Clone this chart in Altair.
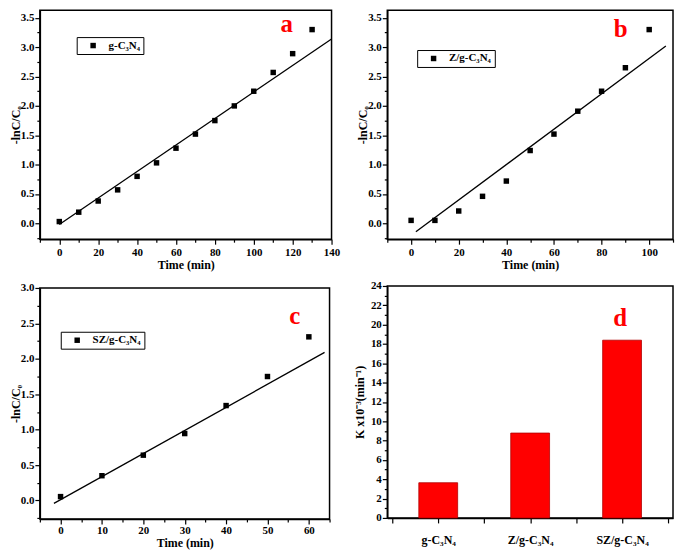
import json
import altair as alt
import pandas as pd

FONT = "Liberation Serif"

# ---- panel a : g-C3N4 ----
time_a = [0, 10, 20, 30, 40, 50, 60, 70, 80, 90, 100, 110, 120, 130]
lnc_a = [0.03, 0.19, 0.38, 0.57, 0.80, 1.03, 1.28, 1.52, 1.75, 2.00, 2.25, 2.57, 2.89, 3.30]
fit_a_x = [0, 140]
fit_a_y = [-0.02, 3.14]

# ---- panel b : Z/g-C3N4 ----
time_b = [0, 10, 20, 30, 40, 50, 60, 70, 80, 90, 100]
lnc_b = [0.05, 0.05, 0.21, 0.46, 0.72, 1.24, 1.52, 1.91, 2.25, 2.65, 3.30]
fit_b_x = [2, 107]
fit_b_y = [-0.145, 3.02]

# ---- panel c : SZ/g-C3N4 ----
time_c = [0, 10, 20, 30, 40, 50, 60]
lnc_c = [0.055, 0.35, 0.64, 0.945, 1.34, 1.75, 2.31]
fit_c_x = [-1.6, 63.8]
fit_c_y = [-0.04, 2.09]

# ---- panel d : rate constants ----
categories = ["g-C\u2083N\u2084", "Z/g-C\u2083N\u2084", "SZ/g-C\u2083N\u2084"]
k_values = [3.64, 8.78, 18.39]

YTITLE = "-lnC/C\u2080"


def is_major(step):
    return f"abs(datum.value/{step} - round(datum.value/{step})) < 0.001"


def tick_size(step):
    return {"condition": {"test": is_major(step), "value": 5}, "value": 3}


def frange(a, b, s):
    out = []
    v = a
    while v <= b + 1e-9:
        out.append(round(v, 4))
        v += s
    return out


def kinetic_panel(t, v, fx, fy, name, letter, lx, ly, xdom, xminor, xmajor,
                  ydom, yticks, ymajor, w, h, legx, legy, xlp=2, xtp=2):
    pts = pd.DataFrame({"t": t, "v": v, "s": [name] * len(t)})
    fit = pd.DataFrame({"t": fx, "v": fy})
    lab = pd.DataFrame({"t": [lx], "v": [ly], "txt": [letter]})
    xvals = frange(xdom[0], xdom[1], xminor)
    yvals = frange(yticks[0], yticks[1], yticks[2])
    x = alt.X("t:Q", scale=alt.Scale(domain=xdom, nice=False, zero=False),
              axis=alt.Axis(values=xvals, tickSize=tick_size(xmajor), format="d",
                            labelExpr=f"{is_major(xmajor)} ? datum.label : ''",
                            title="Time (min)", titlePadding=xtp, labelPadding=xlp))
    y = alt.Y("v:Q", scale=alt.Scale(domain=ydom, nice=False, zero=False),
              axis=alt.Axis(values=yvals, tickSize=tick_size(ymajor), format=".1f",
                            labelExpr=f"{is_major(ymajor)} ? datum.label : ''",
                            title=YTITLE, titlePadding=-2, labelPadding=1))
    line = alt.Chart(fit).mark_line(color="black", strokeWidth=1.3, clip=True).encode(x=x, y=y)
    points = alt.Chart(pts).mark_square(size=30, opacity=1).encode(
        x=x, y=y,
        color=alt.Color("s:N", scale=alt.Scale(range=["black"]),
                        legend=alt.Legend(orient="none", legendX=legx, legendY=legy, title=None,
                                          symbolType="square", symbolSize=30,
                                          strokeColor="black", fillColor="white", padding=3,
                                          symbolOffset=8, labelOffset=10,
                                          labelFont=FONT, labelFontWeight="bold",
                                          labelFontSize=11, labelColor="black")))
    text = alt.Chart(lab).mark_text(color="red", font=FONT, fontSize=25, fontWeight="bold").encode(
        x=x, y=y, text="txt:N")
    return alt.layer(line, points, text).properties(width=w, height=h)


pa = kinetic_panel(time_a, lnc_a, fit_a_x, fit_a_y, categories[0], "a", 117, 3.40,
                   [-10, 140], 10, 20, [-0.27, 3.63], (-0.25, 3.5, 0.25), 0.5, 293, 230, 37, 27)
pb = kinetic_panel(time_b, lnc_b, fit_b_x, fit_b_y, categories[1], "b", 88, 3.31,
                   [-10, 110], 10, 20, [-0.27, 3.63], (-0.25, 3.5, 0.25), 0.5, 287, 230, 30, 40)
pc = kinetic_panel(time_c, lnc_c, fit_c_x, fit_c_y, categories[2], "c", 56.6, 2.61,
                   [-5, 65], 5, 10, [-0.26, 3.0], (-0.25, 3.0, 0.25), 0.5, 291, 232, 21, 44,
                   xlp=1, xtp=2)

# ---- bar panel ----
dd = pd.DataFrame({"pos": list(range(1, len(categories) + 1)), "cat": categories, "k": k_values})
cat_arr = json.dumps(categories, ensure_ascii=False)
xd = alt.X("pos:Q", scale=alt.Scale(domain=[0.5, 3.5], nice=False, zero=False),
           axis=alt.Axis(values=[0.5, 1, 1.5, 2, 2.5, 3, 3.5], tickSize=5,
                         labelExpr=f"datum.value % 1 == 0 ? {cat_arr}[datum.value - 1] : ''",
                         labelPadding=12, labelFontSize=12, title=None))
yd = alt.Y("k:Q", scale=alt.Scale(domain=[0, 24], nice=False, zero=False),
           axis=alt.Axis(values=list(range(0, 25)), tickSize=tick_size(2),
                         labelExpr=f"{is_major(2)} ? datum.label : ''",
                         title="K x10\u207b\u00b3(min\u207b\u00b9)", titlePadding=4, labelPadding=1))
bars = alt.Chart(dd).mark_bar(size=39, color="#ff0000", stroke="#b00000", strokeWidth=0.8).encode(x=xd, y=yd)
dlab = alt.Chart(pd.DataFrame({"pos": [3], "k": [20.7], "txt": ["d"]})).mark_text(
    color="red", font=FONT, fontSize=25, fontWeight="bold", dx=-2).encode(x=xd, y=yd, text="txt:N")
pd_ = alt.layer(bars, dlab).properties(width=287, height=233)

col1 = alt.vconcat(pa, pc, spacing=10).resolve_scale(color="independent")
col2 = alt.vconcat(pb, pd_, spacing=8).resolve_scale(color="independent")
chart = alt.hconcat(col1, col2, spacing=12).resolve_scale(color="independent").properties(
    padding={"left": 0, "top": 0, "right": 0, "bottom": 0}, background="white"
).configure_view(stroke="black", strokeWidth=1.5).configure_axis(
    domainColor="black", domainWidth=1.5, tickColor="black", tickWidth=1.2,
    labelFont=FONT, labelFontWeight="bold", labelFontSize=11, labelColor="black",
    titleFont=FONT, titleFontWeight="bold", titleFontSize=12, titleColor="black",
    grid=False, labelFlush=False, labelOverlap=False
)

chart.save("out.html", embed_options={"renderer": "svg", "actions": False})
